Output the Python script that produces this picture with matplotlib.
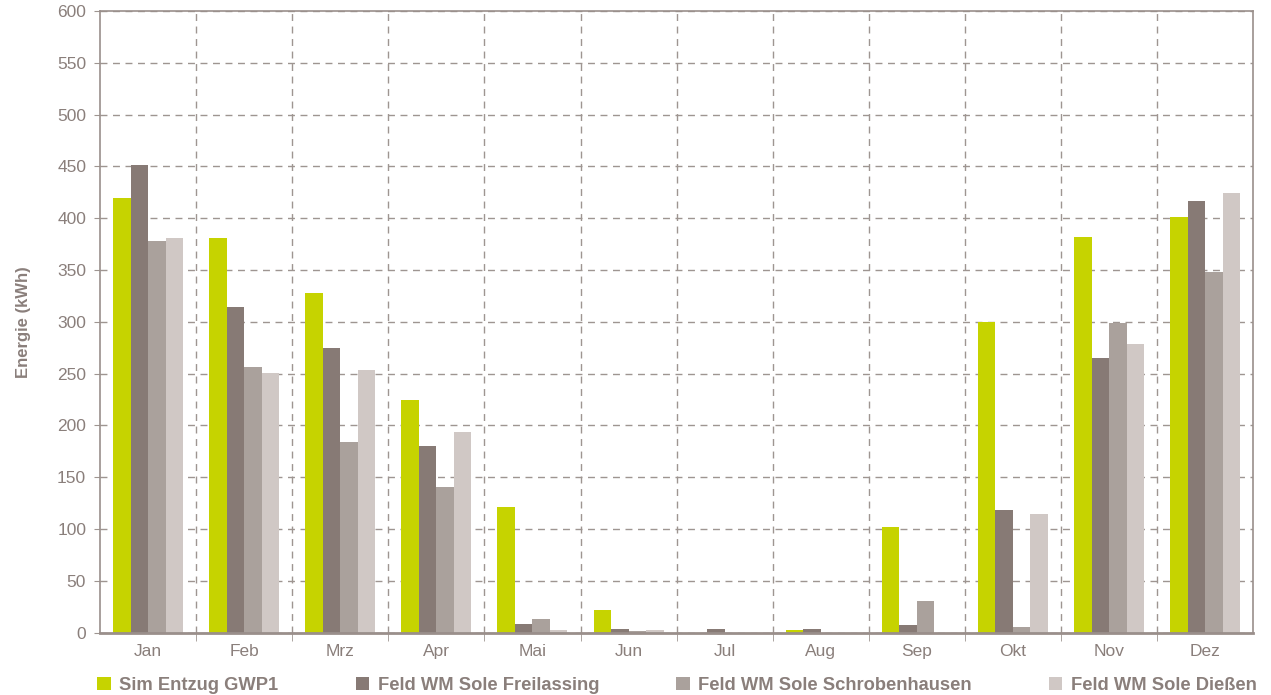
import matplotlib.pyplot as plt
import numpy as np

months = ["Jan", "Feb", "Mrz", "Apr", "Mai", "Jun",
          "Jul", "Aug", "Sep", "Okt", "Nov", "Dez"]

sim_gwp1 = [420, 381, 328, 225, 121.5, 22, 0, 2.5, 102, 300, 382, 401]
freilassing = [451, 314, 275, 180, 8.5, 3.5, 3.5, 3.5, 7.5, 118.5, 265.5, 417]
schrobenhausen = [378, 256, 184, 141, 13, 1.5, 0, 0, 30.5, 5.5, 298.5, 348.5]
diessen = [381, 251, 254, 194, 2.5, 2.5, 0, 0, 0, 114.5, 279, 424]

series_labels = [
    "Sim Entzug GWP1",
    "Feld WM Sole Freilassing",
    "Feld WM Sole Schrobenhausen",
    "Feld WM Sole Dießen",
]
colors = ["#c6d300", "#877a75", "#aaa19c", "#d0c8c5"]

text_color = "#8a7f7b"
grid_color = "#9e9591"

plt.rcParams["font.family"] = ["Liberation Sans", "DejaVu Sans"]

fig = plt.figure(figsize=(12.71, 6.95), dpi=100)
ax = fig.add_axes([0.0787, 0.0896, 0.9073, 0.8946])

x = np.arange(len(months))
width = 0.182
all_series = [sim_gwp1, freilassing, schrobenhausen, diessen]
for i, (values, label, color) in enumerate(zip(all_series, series_labels, colors)):
    ax.bar(x + (i - 1.5) * width, values, width, color=color, label=label,
           linewidth=0, zorder=3)

ax.set_xlim(-0.5, len(months) - 0.5)
ax.set_ylim(0, 600)
ax.set_yticks(np.arange(0, 601, 50))
ax.set_xticks(x)
ax.set_xticklabels(months)
ax.set_xticks(np.arange(0.5, len(months) - 0.5, 1), minor=True)

ax.grid(axis="y", which="major", linestyle=(0, (5, 4)), color=grid_color,
        linewidth=1.0, zorder=0)
ax.grid(axis="x", which="minor", linestyle=(0, (5, 4)), color=grid_color,
        linewidth=1.0, zorder=0)
ax.grid(axis="x", which="major", visible=False)

ax.tick_params(axis="x", which="major", length=0, labelsize=12.5,
               labelcolor=text_color, pad=8)
ax.tick_params(axis="x", which="minor", length=6, color=grid_color,
               direction="out")
ax.tick_params(axis="y", length=4, color=grid_color, labelsize=12.5,
               labelcolor=text_color, pad=6)

for side in ["left", "right", "top", "bottom"]:
    ax.spines[side].set_color("#9a8f8b")
    ax.spines[side].set_linewidth(1.2)
ax.spines["bottom"].set_linewidth(2)
ax.spines["bottom"].set_zorder(4)

ax.set_ylabel("Energie (kWh)", fontsize=12, fontweight="bold",
              color=text_color, labelpad=19)

fig.legend(loc="lower center", bbox_to_anchor=(0.5327, -0.006),
           ncol=4, frameon=False, labelcolor=text_color,
           handlelength=0.75, handleheight=0.75, handletextpad=0.45,
           columnspacing=4.2, borderaxespad=0.0, borderpad=0.3,
           prop={"weight": "bold", "size": 13.2})

fig.savefig("out.png", dpi=100)
